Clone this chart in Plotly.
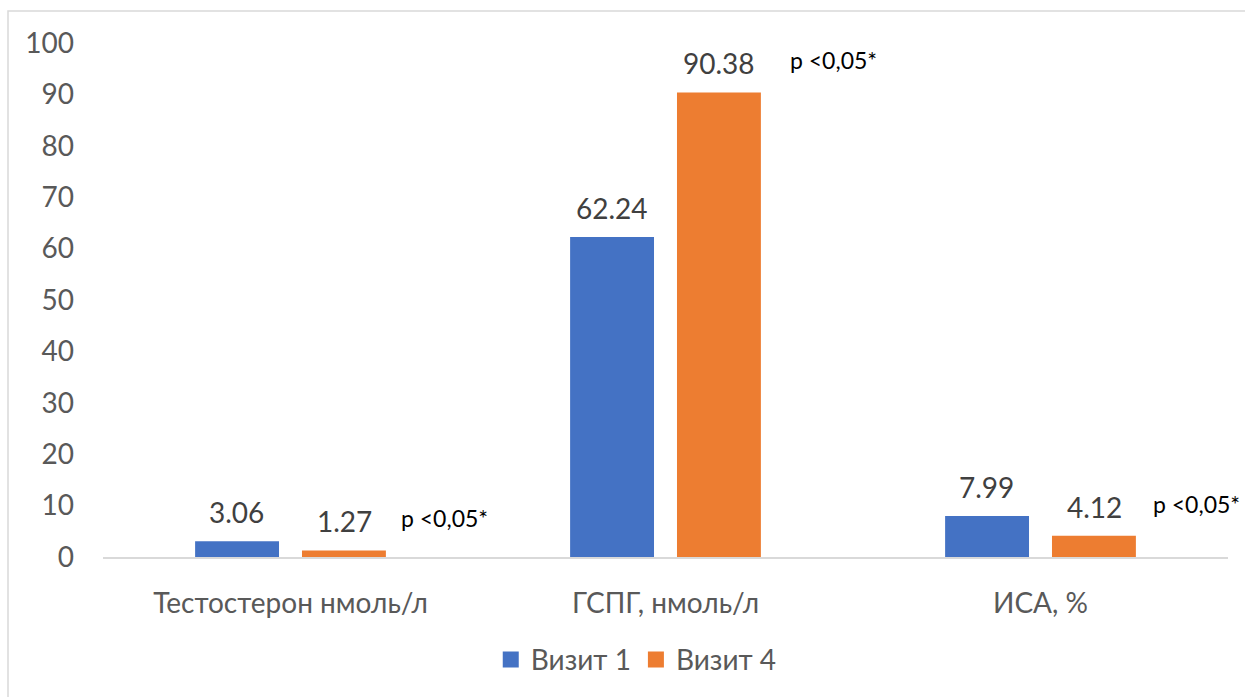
import plotly.graph_objects as go

# Hormone panel: mean values at visit 1 and visit 4
categories = ["Тестостерон нмоль/л", "ГСПГ, нмоль/л", "ИСА, %"]
visit1 = [3.06, 62.24, 7.99]
visit4 = [1.27, 90.38, 4.12]
series_names = ["Визит 1", "Визит 4"]
p_labels = ["p <0,05*", "p <0,05*", "p <0,05*"]
y_ticks = [0, 10, 20, 30, 40, 50, 60, 70, 80, 90, 100]

BLUE = "#4472C4"
ORANGE = "#ED7D31"
FONT = "Lato"
FS = 28

W, H = 1245, 697
L, R, T, B = 103, 17, 43, 140
plot_w = W - L - R
plot_h = H - T - B

fig = go.Figure()
series = [(series_names[0], visit1, BLUE), (series_names[1], visit4, ORANGE)]
for name, vals, col in series:
    fig.add_trace(go.Bar(
        x=categories, y=vals, name=name, showlegend=False,
        marker=dict(color=col, line=dict(width=0)),
    ))

# legend entries with larger square swatches
for name, vals, col in series:
    fig.add_trace(go.Scatter(
        x=[categories[0]], y=[None], mode="markers", name=name,
        marker=dict(symbol="square", size=17, color=col),
    ))

# value labels above the bars
offsets = [-0.143, 0.143]
for (name, vals, col), off in zip(series, offsets):
    for i, v in enumerate(vals):
        fig.add_annotation(
            x=i + off, y=v, xref="x", yref="y", text=f"{v:.2f}", showarrow=False,
            xanchor="center", yanchor="bottom", yshift=10,
            font=dict(family=FONT, size=FS, color="#404040"),
        )

# significance marks to the right of each pair
x_shifts = [108, 122, 110]
for i, (v4, lab, xs) in enumerate(zip(visit4, p_labels, x_shifts)):
    fig.add_annotation(
        x=i, y=v4, xref="x", yref="y", text=lab, showarrow=False,
        xanchor="left", yanchor="middle", xshift=xs, yshift=32,
        font=dict(family=FONT, size=23, color="#000000"),
    )

# outer chart frame
fig.add_shape(
    type="rect", xref="paper", yref="paper",
    x0=(8 - L) / plot_w, x1=(W + 20 - L) / plot_w,
    y0=(H - B - (H + 20)) / plot_h, y1=(H - B - 11) / plot_h,
    line=dict(color="#D9D9D9", width=1.5), fillcolor="rgba(0,0,0,0)", layer="below",
)

fig.update_layout(
    width=W, height=H,
    margin=dict(l=L, r=R, t=T, b=B, autoexpand=False),
    paper_bgcolor="white", plot_bgcolor="white",
    barmode="group", bargap=0.43, bargroupgap=0.215,
    font=dict(family=FONT, color="#595959"),
    showlegend=True,
    legend=dict(
        orientation="h", x=0.474, xanchor="center", y=-0.2, yanchor="middle",
        font=dict(family=FONT, size=FS, color="#595959"),
        traceorder="normal", itemsizing="trace",
    ),
    xaxis=dict(
        type="category", range=[-0.5, len(categories) - 0.5],
        showgrid=False, zeroline=False, showline=True, linecolor="#D9D9D9", linewidth=2,
        ticks="", tickfont=dict(family=FONT, size=FS, color="#595959"),
        ticklabelstandoff=20,
    ),
    yaxis=dict(
        range=[0, 100], tickvals=y_ticks, showgrid=False, zeroline=False,
        showline=False, ticks="", tickfont=dict(family=FONT, size=FS, color="#595959"),
        ticklabelstandoff=28,
    ),
)

fig.write_html("out.html")
